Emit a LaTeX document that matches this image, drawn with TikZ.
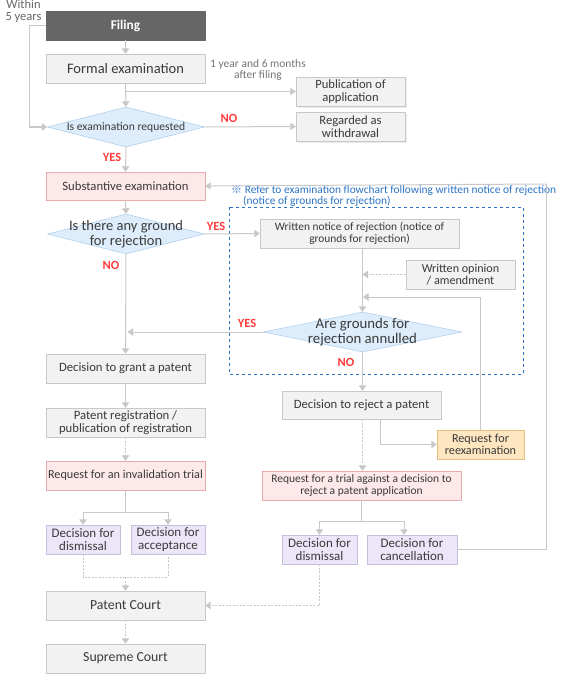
\documentclass[tikz,border=0pt]{standalone}
\usepackage{fontspec}
\setmainfont{Carlito}
\newfontfamily\cjk{Noto Sans CJK KR}
\usetikzlibrary{shapes.geometric,arrows.meta,shadows}
\definecolor{gline}{HTML}{C8C8C8}
\definecolor{gbox}{HTML}{F2F2F2}
\definecolor{dark}{HTML}{666666}
\definecolor{txt}{HTML}{3A3A3A}
\definecolor{pinkf}{HTML}{FDE9E9}
\definecolor{pinkd}{HTML}{E8AAAA}
\definecolor{diaf}{HTML}{DEEDFB}
\definecolor{diad}{HTML}{9DC3E6}
\definecolor{orf}{HTML}{FDE6C0}
\definecolor{ord}{HTML}{E4BF80}
\definecolor{puf}{HTML}{ECE6F8}
\definecolor{pud}{HTML}{C6BFDC}
\definecolor{lbl}{HTML}{FF3B3B}
\definecolor{note}{HTML}{2B73C4}
\newcommand{\fsz}[1]{\fontsize{#1}{#1}\selectfont}

\begin{document}
\begin{tikzpicture}[x=1pt,y=-1pt,
  box/.style={draw=gline,fill=gbox,text=txt,minimum width=159,minimum height=29,
    inner sep=0pt,align=center,font=\fsz{12.7}},
  pinkbox/.style={box,draw=pinkd,fill=pinkf},
  purbox/.style={box,draw=pud,fill=puf,minimum width=74,font=\fsz{13}},
  sidebox/.style={box,minimum width=109,font=\fsz{12.6},
    drop shadow={shadow xshift=2pt,shadow yshift=-2pt,fill=black!8,opacity=1}},
  dia/.style={draw=diad,fill=diaf,shape=diamond,minimum width=157,minimum height=40,inner sep=0pt},
  diatxt/.style={text=txt,align=center,inner sep=0pt,font=\fsz{14.5}},
  yn/.style={text=lbl,font=\fsz{12.5}\bfseries,inner sep=0pt},
  arr/.style={draw=gline,line width=1pt,-{Triangle[width=7.5pt,length=5.5pt]}},
  ln/.style={draw=gline,line width=1pt},
  dsh/.style={arr,line width=0.8pt,dash pattern=on 2pt off 1.5pt}]
 \useasboundingbox (0,0) rectangle (570,674);

 \node[box,fill=dark,draw=dark,text=white,font=\fsz{13.3}\bfseries] (filing) at (125.5,25.5) {Filing};
 \node[box,font=\fsz{14.5}] (formal) at (125.5,68.5) {Formal examination};
 \node[sidebox] (pub) at (350.5,91.5) {Publication of\\application};
 \node[sidebox] (regard) at (350.5,126.5) {Regarded as\\withdrawal};
 \node[dia] (q1) at (126,127) {};
 \node[diatxt,font=\fsz{11.6}] (q1t) at (q1) {Is examination requested};
 \node[pinkbox,minimum height=28] (subst) at (125.5,186) {Substantive examination};
 \node[dia] (q2) at (126,234) {};
 \node[diatxt] (q2t) at (q2) {Is there any ground\\for rejection};
 \node[box,minimum width=199,font=\fsz{11.4}] (notice) at (359.5,233.5) {Written notice of rejection (notice of\\grounds for rejection)};
 \node[box,minimum width=109,font=\fsz{12.1}] (opinion) at (460.5,274.5) {Written opinion\\/ amendment};
 \node[dia,minimum width=199] (q3) at (362.5,332) {};
 \node[diatxt,font=\fsz{14.8}] (q3t) at (q3) {Are grounds for\\rejection annulled};
 \node[box] (grant) at (125.5,368.5) {Decision to grant a patent};
 \node[box,minimum height=28] (reject) at (361.5,405) {Decision to reject a patent};
 \node[box,minimum width=87,draw=ord,fill=orf,font=\fsz{12.2}] (reexam) at (480.5,444.5) {Request for\\reexamination};
 \node[box] (regist) at (125.5,422.5) {Patent registration /\\publication of registration};
 \node[pinkbox,font=\fsz{12.2}] (invalid) at (125.5,475.5) {Request for an invalidation trial};
 \node[pinkbox,minimum width=199,font=\fsz{11.5}] (trial) at (361.5,485.5) {Request for a trial against a decision to\\reject a patent application};
 \node[purbox] (dism1) at (83,539.5) {Decision for\\dismissal};
 \node[purbox] (accept) at (168,539.5) {Decision for\\acceptance};
 \node[purbox,minimum width=75] (dism2) at (319.5,549.5) {Decision for\\dismissal};
 \node[purbox,minimum width=90] (cancel) at (412,549.5) {Decision for\\cancellation};
 \node[box,font=\fsz{13.8}] (court) at (125.5,605.5) {Patent Court};
 \node[box,font=\fsz{13.8}] (supreme) at (125.5,658.5) {Supreme Court};

 \node[text=dark,font=\fsz{12.5},align=center,inner sep=0pt] (within) at (23.5,11) {Within\\5 years};
 \node[text=dark!90,font=\fsz{11.5},align=center,inner sep=0pt] (after) at (258,70) {1 year and 6 months\\after filing};
 \node[text=note,font=\fsz{11.4},anchor=west,inner sep=0pt] (note1) at (231,190) {{\cjk\fsz{11}※} Refer to examination flowchart following written notice of rejection};
 \node[text=note,font=\fsz{11.4},anchor=west,inner sep=0pt] (note2) at (243,201) {(notice of grounds for rejection)};
 \draw[note,dashed,line width=0.9pt] (229,207) rectangle (523,374);

 \node[yn] (no1) at (229,118) {NO};
 \node[yn] (yes1) at (112,157) {YES};
 \node[yn] (yes2) at (216,226) {YES};
 \node[yn] (no2) at (111,265) {NO};
 \node[yn] (yes3) at (247,323) {YES};
 \node[yn] (no3) at (346,362) {NO};

 \coordinate (j1) at (363,297);
 \coordinate (j2) at (546,184);

 \draw[arr] (filing) -- (formal);
 \draw[arr] (formal) -- (q1);
 \draw[arr] (formal.south |- pub.west) -- (pub.west);
 \draw[arr] (filing.west) -- ++(-16,0) |- (q1.west);
 \draw[arr] (q1.east) -- (regard.west);
 \draw[arr] (q1.south) -- (subst.north);
 \draw[arr] (subst.south) -- (q2.north);
 \draw[arr] (q2.east) -- (notice.west);
 \draw[arr] (q2.south) -- (grant.north);
 \draw[arr] (notice.south -| q3.north) -- (q3.north);
 \draw[dsh] (opinion.west) -- (opinion.west -| q3.north);
 \draw[arr] (reexam.north) |- (j1);
 \draw[arr] (q3.west) -- ([xshift=2pt]q3.west -| grant.north);
 \draw[arr] (q3.south) -- (reject.north -| q3.south);
 \draw[arr] ([xshift=18.5pt]reject.south) |- (reexam.west);
 \draw[dsh] (reject.south -| q3.south) -- (trial.north -| q3.south);
 \draw[arr] (trial.south) -- ++(0,21) -| (dism2.north);
 \draw[arr] (trial.south) -- ++(0,21) -| ([xshift=-8pt]cancel.north);
 \draw[ln] (cancel.east) -| (j2);
 \draw[arr] (j2) -- (subst.east);
 \draw[arr] (grant) -- (regist);
 \draw[dsh] (regist) -- (invalid);
 \draw[arr] (invalid.south) -- ++(0,22) -| (dism1.north);
 \draw[arr] (invalid.south) -- ++(0,22) -| (accept.north);
 \draw[dsh,-] (dism1.south) |- (court.north |- 0,577) -| (accept.south);
 \draw[dsh] (court.north |- 0,577) -- (court.north);
 \draw[dsh] (dism2.south) |- (court.east);
 \draw[dsh] (court) -- (supreme);
\end{tikzpicture}
\end{document}
